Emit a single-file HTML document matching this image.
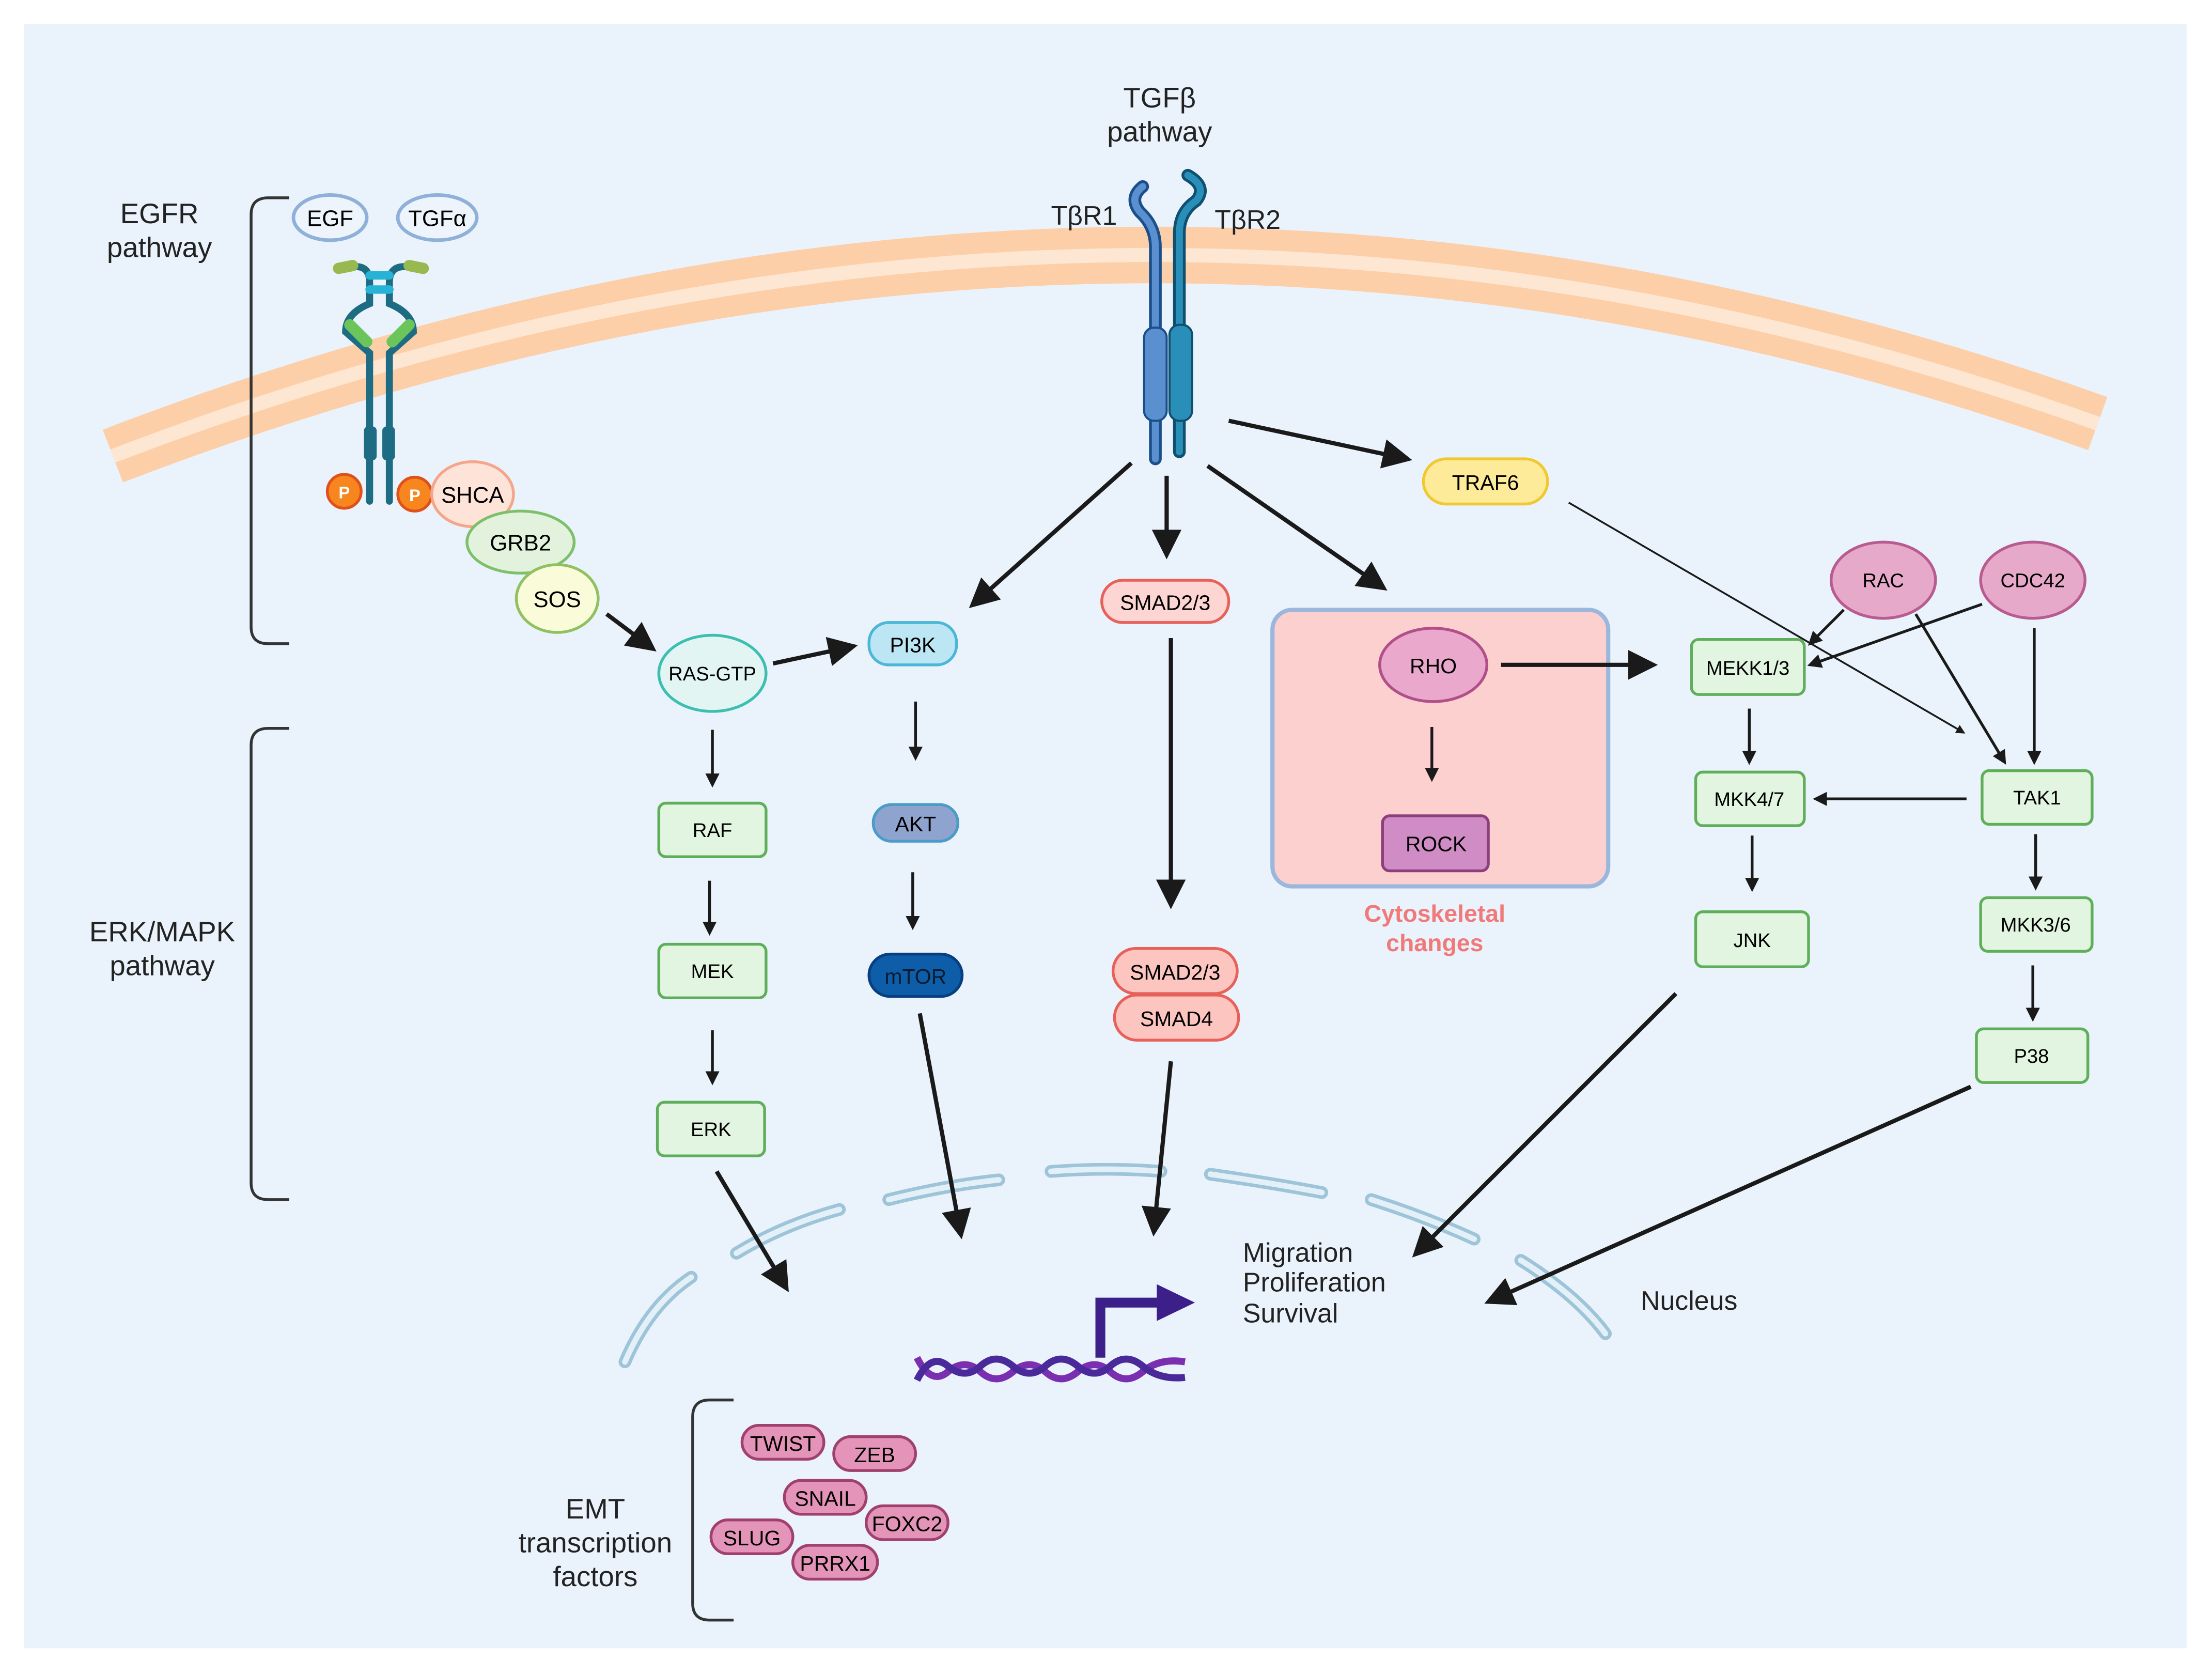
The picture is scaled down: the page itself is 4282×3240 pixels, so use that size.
<!DOCTYPE html>
<html><head><meta charset="utf-8">
<style>
html,body{margin:0;padding:0;background:#fff;}
svg{display:block;}
text{font-family:"Liberation Sans",sans-serif;}
</style></head>
<body>
<svg width="4282" height="3240" viewBox="0 0 1568 1186" xmlns="http://www.w3.org/2000/svg">
<defs>
<marker id="a" viewBox="0 0 10 10" refX="8" refY="5" markerWidth="5" markerHeight="5" orient="auto"><path d="M0,0 L10,5 L0,10 z" fill="#1a1a1a"/></marker>
<marker id="s" viewBox="0 0 10 10" refX="8" refY="5" markerWidth="7" markerHeight="7" orient="auto"><path d="M0,0 L10,5 L0,10 z" fill="#1a1a1a"/></marker>
</defs>
<rect x="0" y="0" width="1568" height="1186" fill="#fff"/>
<rect x="17" y="17" width="1533" height="1151" fill="#eaf3fb"/>

<!-- membrane -->
<path d="M80,323 Q790,50 1487,300" fill="none" stroke="#fccfa8" stroke-width="40"/>
<path d="M80,323 Q790,50 1487,300" fill="none" stroke="#fde6d2" stroke-width="10"/>

<!-- brackets -->
<path d="M205,140 H190 Q178,140 178,152 V444 Q178,456 190,456 H205" fill="none" stroke="#333" stroke-width="2"/>
<path d="M205,516 H190 Q178,516 178,528 V838 Q178,850 190,850 H205" fill="none" stroke="#333" stroke-width="2"/>
<path d="M520,992 H503 Q491,992 491,1004 V1136 Q491,1148 503,1148 H520" fill="none" stroke="#333" stroke-width="2"/>

<g font-size="20" fill="#222" text-anchor="middle">
<text x="113" y="158">EGFR</text><text x="113" y="182">pathway</text>
<text x="115" y="667">ERK/MAPK</text><text x="115" y="691">pathway</text>
<text x="822" y="76">TGFβ</text><text x="822" y="100">pathway</text>
<text x="422" y="1076">EMT</text><text x="422" y="1100">transcription</text><text x="422" y="1124">factors</text>
</g>
<g font-size="19" fill="#222">
<text x="881" y="894">Migration</text><text x="881" y="915">Proliferation</text><text x="881" y="937">Survival</text>
<text x="1163" y="928">Nucleus</text>
<text x="745" y="159">TβR1</text><text x="861" y="162">TβR2</text>
</g>

<!-- EGF ligands -->
<ellipse cx="234" cy="154" rx="26" ry="16" fill="#eef4fb" stroke="#8fb0d8" stroke-width="2.5"/>
<ellipse cx="310" cy="154" rx="28" ry="16" fill="#eef4fb" stroke="#8fb0d8" stroke-width="2.5"/>
<text x="234" y="160" font-size="16" text-anchor="middle">EGF</text>
<text x="310" y="160" font-size="16" text-anchor="middle">TGFα</text>

<!-- EGFR receptor -->
<g stroke-linecap="round" fill="none">
<path d="M245,190 Q262,185 262,200 V215 Q245,222 245,235 L262,250 V355" stroke="#1e6c84" stroke-width="5"/>
<path d="M295,190 Q276,185 276,200 V215 Q293,222 293,235 L276,250 V355" stroke="#1e6c84" stroke-width="5"/>
<path d="M262,195 H276" stroke="#27b3d6" stroke-width="6"/>
<path d="M262,205 H276" stroke="#27b3d6" stroke-width="6"/>
<path d="M248,230 L260,242" stroke="#6cc55a" stroke-width="8"/>
<path d="M290,230 L278,242" stroke="#6cc55a" stroke-width="8"/>
<path d="M240,190 L250,188" stroke="#98b850" stroke-width="8"/>
<path d="M300,190 L290,188" stroke="#98b850" stroke-width="8"/>
</g>
<rect x="258" y="302" width="9" height="24" rx="3" fill="#1e6c84"/>
<rect x="271" y="302" width="9" height="24" rx="3" fill="#1e6c84"/>
<circle cx="244" cy="348" r="12" fill="#f7861f" stroke="#e0501a" stroke-width="2"/>
<text x="244" y="353" font-size="12" fill="#fff" text-anchor="middle" font-weight="bold">P</text>
<circle cx="294" cy="350" r="12" fill="#f7861f" stroke="#e0501a" stroke-width="2"/>
<text x="294" y="355" font-size="12" fill="#fff" text-anchor="middle" font-weight="bold">P</text>
<ellipse cx="335" cy="350" rx="29" ry="23" fill="#fde3d8" stroke="#f4a58a" stroke-width="2"/>
<text x="335" y="356" font-size="16" text-anchor="middle">SHCA</text>
<ellipse cx="369" cy="384" rx="38" ry="22" fill="#e3f2dc" stroke="#7cc06a" stroke-width="2"/>
<text x="369" y="390" font-size="16" text-anchor="middle">GRB2</text>
<ellipse cx="395" cy="424" rx="29" ry="24" fill="#f9fbd9" stroke="#90c060" stroke-width="2"/>
<text x="395" y="430" font-size="16" text-anchor="middle">SOS</text>

<!-- TGFb receptor -->
<g fill="none" stroke-linecap="round">
<path d="M819,325 V175 Q819,160 808,150 Q800,140 810,132" stroke="#1b4f8a" stroke-width="9"/>
<path d="M819,325 V175 Q819,160 808,150 Q800,140 810,132" stroke="#5a8fd0" stroke-width="5"/>
<path d="M836,320 V165 Q836,150 848,142 Q856,132 842,124" stroke="#0f4f70" stroke-width="9"/>
<path d="M836,320 V165 Q836,150 848,142 Q856,132 842,124" stroke="#2a8fb8" stroke-width="5"/>
</g>
<rect x="811" y="232" width="16" height="66" rx="7" fill="#5a8fd0" stroke="#1b4f8a" stroke-width="1.5"/>
<rect x="829" y="230" width="16" height="68" rx="7" fill="#2a8fb8" stroke="#0f4f70" stroke-width="1.5"/>

<!-- nucleus envelope -->
<g fill="none" stroke="#9dc4d8" stroke-width="9" stroke-linecap="round">
<path d="M443,965 Q460,925 490,905"/>
<path d="M522,888 Q555,868 595,857"/>
<path d="M630,850 Q670,840 708,836"/>
<path d="M745,830 Q785,827 823,830"/>
<path d="M858,832 Q900,838 937,845"/>
<path d="M972,850 Q1010,862 1045,878"/>
<path d="M1078,893 Q1118,918 1138,945"/>
</g>
<g fill="none" stroke="#e4f0f8" stroke-width="4" stroke-linecap="round">
<path d="M443,965 Q460,925 490,905"/>
<path d="M522,888 Q555,868 595,857"/>
<path d="M630,850 Q670,840 708,836"/>
<path d="M745,830 Q785,827 823,830"/>
<path d="M858,832 Q900,838 937,845"/>
<path d="M972,850 Q1010,862 1045,878"/>
<path d="M1078,893 Q1118,918 1138,945"/>
</g>

<!-- DNA -->
<path d="M650,962 Q660,982 672,972 T695,972 T718,972 T741,972 T764,972 T787,972 T810,972 T840,965" fill="none" stroke="#7a2fb0" stroke-width="5"/>
<path d="M650,978 Q660,958 672,968 T695,968 T718,968 T741,968 T764,968 T787,968 T810,968 T840,976" fill="none" stroke="#4a2a9a" stroke-width="5"/>
<path d="M780,962 V923 H825" fill="none" stroke="#3d1f8a" stroke-width="7"/>
<path d="M820,910 L847,923 L820,936 z" fill="#3d1f8a"/>

<!-- RHO box -->
<rect x="902" y="432" width="238" height="196" rx="14" fill="#fdd0d0" stroke="#9bb7dc" stroke-width="3"/>
<ellipse cx="1016" cy="471" rx="38" ry="26" fill="#e9a8cc" stroke="#b04f8a" stroke-width="2"/>
<text x="1016" y="477" font-size="15" text-anchor="middle">RHO</text>
<rect x="980" y="578" width="75" height="39" rx="5" fill="#d08cc4" stroke="#8d3f7d" stroke-width="2"/>
<text x="1018" y="603" font-size="15" text-anchor="middle">ROCK</text>
<text x="1017" y="653" font-size="17" font-weight="bold" fill="#f07a7a" text-anchor="middle">Cytoskeletal</text>
<text x="1017" y="674" font-size="17" font-weight="bold" fill="#f07a7a" text-anchor="middle">changes</text>

<!-- nodes -->
<ellipse cx="505" cy="477" rx="38" ry="27" fill="#e2f5f3" stroke="#3cbfb0" stroke-width="2"/>
<text x="505" y="482" font-size="14" text-anchor="middle">RAS-GTP</text>
<rect x="616" y="441" width="62" height="30" rx="14" fill="#bde6f5" stroke="#4ab6d8" stroke-width="2"/>
<text x="647" y="462" font-size="15" text-anchor="middle">PI3K</text>
<rect x="619" y="570" width="60" height="26" rx="13" fill="#8fa3cf" stroke="#4a9bc8" stroke-width="2"/>
<text x="649" y="589" font-size="15" text-anchor="middle">AKT</text>
<rect x="616" y="676" width="66" height="30" rx="15" fill="#0d5da8" stroke="#083f80" stroke-width="2"/>
<text x="649" y="697" font-size="15" text-anchor="middle" fill="#0a1a30">mTOR</text>

<g fill="#e2f5e0" stroke="#5fae5a" stroke-width="2">
<rect x="467" y="569" width="76" height="38" rx="5"/>
<rect x="467" y="669" width="76" height="38" rx="5"/>
<rect x="466" y="781" width="76" height="38" rx="5"/>
<rect x="1199" y="453" width="80" height="39" rx="5"/>
<rect x="1202" y="547" width="77" height="38" rx="5"/>
<rect x="1202" y="646" width="80" height="39" rx="5"/>
<rect x="1405" y="546" width="78" height="38" rx="5"/>
<rect x="1404" y="636" width="79" height="38" rx="5"/>
<rect x="1401" y="729" width="79" height="38" rx="5"/>
</g>
<g font-size="14" text-anchor="middle">
<text x="505" y="593">RAF</text><text x="505" y="693">MEK</text><text x="504" y="805">ERK</text>
<text x="1239" y="478">MEKK1/3</text><text x="1240" y="571">MKK4/7</text><text x="1242" y="671">JNK</text>
<text x="1444" y="570">TAK1</text><text x="1443" y="660">MKK3/6</text><text x="1440" y="753">P38</text>
</g>

<rect x="781" y="411" width="90" height="30" rx="15" fill="#fdd5d2" stroke="#e8605a" stroke-width="2"/>
<text x="826" y="432" font-size="15" text-anchor="middle">SMAD2/3</text>
<rect x="789" y="672" width="88" height="32" rx="16" fill="#fdc5c0" stroke="#e8605a" stroke-width="2"/>
<text x="833" y="694" font-size="15" text-anchor="middle">SMAD2/3</text>
<rect x="790" y="705" width="88" height="32" rx="16" fill="#fdc5c0" stroke="#e8605a" stroke-width="2"/>
<text x="834" y="727" font-size="15" text-anchor="middle">SMAD4</text>

<rect x="1009" y="325" width="88" height="32" rx="16" fill="#fdeb9a" stroke="#f0c830" stroke-width="2"/>
<text x="1053" y="347" font-size="15" text-anchor="middle">TRAF6</text>

<ellipse cx="1335" cy="411" rx="37" ry="27" fill="#e7a9c9" stroke="#b85b90" stroke-width="2"/>
<text x="1335" y="416" font-size="14" text-anchor="middle">RAC</text>
<ellipse cx="1441" cy="411" rx="37" ry="27" fill="#e7a9c9" stroke="#b85b90" stroke-width="2"/>
<text x="1441" y="416" font-size="14" text-anchor="middle">CDC42</text>

<!-- EMT factors -->
<g fill="#e494b8" stroke="#a0406e" stroke-width="2">
<rect x="526" y="1010" width="58" height="24" rx="12"/>
<rect x="591" y="1018" width="58" height="24" rx="12"/>
<rect x="556" y="1049" width="58" height="24" rx="12"/>
<rect x="614" y="1067" width="58" height="24" rx="12"/>
<rect x="504" y="1077" width="58" height="24" rx="12"/>
<rect x="562" y="1095" width="60" height="24" rx="12"/>
</g>
<g font-size="15" text-anchor="middle">
<text x="555" y="1028">TWIST</text><text x="620" y="1036">ZEB</text><text x="585" y="1067">SNAIL</text>
<text x="643" y="1085">FOXC2</text><text x="533" y="1095">SLUG</text><text x="592" y="1113">PRRX1</text>
</g>

<!-- arrows: big -->
<g stroke="#1a1a1a" stroke-width="3" fill="none" marker-end="url(#s)">
<line x1="430" y1="435" x2="462" y2="459"/>
<line x1="548" y1="470" x2="604" y2="458"/>
<line x1="802" y1="328" x2="690" y2="428"/>
<line x1="827" y1="337" x2="827" y2="392"/>
<line x1="856" y1="330" x2="980" y2="416"/>
<line x1="871" y1="298" x2="997" y2="325"/>
<line x1="830" y1="452" x2="830" y2="640"/>
<line x1="1064" y1="471" x2="1171" y2="471"/>
<line x1="508" y1="830" x2="557" y2="912"/>
<line x1="652" y1="718" x2="681" y2="874"/>
<line x1="830" y1="752" x2="818" y2="872"/>
<line x1="1188" y1="704" x2="1004" y2="888"/>
<line x1="1397" y1="770" x2="1056" y2="922"/>
</g>
<!-- arrows: small -->
<g stroke="#1a1a1a" stroke-width="2" fill="none" marker-end="url(#a)">
<line x1="505" y1="517" x2="505" y2="556"/>
<line x1="503" y1="624" x2="503" y2="661"/>
<line x1="505" y1="730" x2="505" y2="767"/>
<line x1="649" y1="497" x2="649" y2="537"/>
<line x1="647" y1="618" x2="647" y2="657"/>
<line x1="1015" y1="515" x2="1015" y2="552"/>
<line x1="1240" y1="502" x2="1240" y2="540"/>
<line x1="1242" y1="592" x2="1242" y2="630"/>
<line x1="1443" y1="591" x2="1443" y2="629"/>
<line x1="1441" y1="684" x2="1441" y2="722"/>
<line x1="1394" y1="566" x2="1287" y2="566"/>
<line x1="1442" y1="445" x2="1442" y2="540"/>
<line x1="1358" y1="435" x2="1421" y2="540"/>
<line x1="1307" y1="432" x2="1283" y2="456"/>
<line x1="1405" y1="428" x2="1283" y2="471"/>
</g>
<g stroke="#1a1a1a" stroke-width="1.3" fill="none" marker-end="url(#a)">
<line x1="1112" y1="356" x2="1392" y2="519"/>
</g>
</svg>
</body></html>
